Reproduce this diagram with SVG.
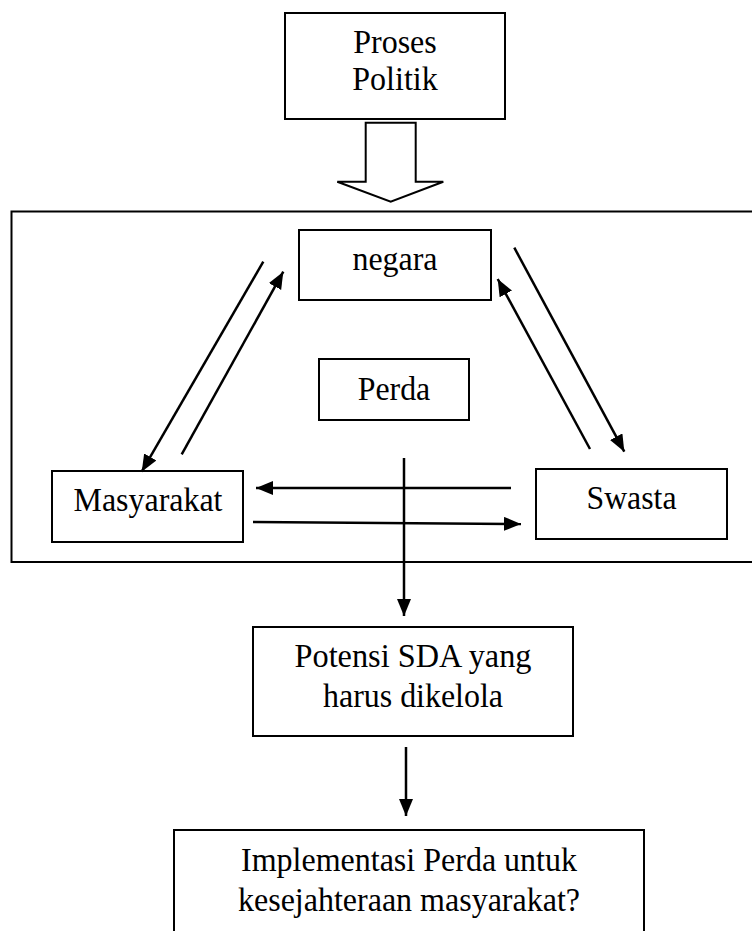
<svg xmlns="http://www.w3.org/2000/svg" width="752" height="931" viewBox="0 0 752 931">
<style>
.box{fill:#fff;stroke:#000;stroke-width:2}
.lbl{font-family:"Liberation Serif","Times New Roman",serif;font-size:34px;fill:#000;text-anchor:middle}
.con{stroke:#000;stroke-width:2.5;fill:none}
.arr{marker-end:url(#ah)}
</style>
<defs>
<marker id="ah" markerUnits="userSpaceOnUse" markerWidth="18" markerHeight="15" refX="17" refY="7" orient="auto">
<path d="M0,0 L17,7 L0,14 z" fill="#000"/>
</marker>
</defs>
<rect width="752" height="931" fill="#fff"/>
<g id="container"><rect class="box" x="11.5" y="211.5" width="760" height="350.5"/></g>
<g id="proses-politik">
<rect class="box" x="285" y="13" width="220" height="106"/>
<text class="lbl" x="395" y="53" textLength="83.6" lengthAdjust="spacingAndGlyphs">Proses</text>
<text class="lbl" x="395" y="90" textLength="85.4" lengthAdjust="spacingAndGlyphs">Politik</text>
</g>
<g id="hollow-arrow">
<polygon points="365.7,122.7 415.7,122.7 415.7,181.7 443.3,181.7 390.7,201.7 337.3,181.7 365.7,181.7" fill="#fff" stroke="#000" stroke-width="2" stroke-linejoin="miter"/>
</g>
<g id="negara">
<rect class="box" x="299" y="230" width="192" height="70"/>
<text class="lbl" x="395" y="270" textLength="85" lengthAdjust="spacingAndGlyphs">negara</text>
</g>
<g id="perda">
<rect class="box" x="319" y="359" width="150" height="61"/>
<text class="lbl" x="394" y="400" textLength="72.5" lengthAdjust="spacingAndGlyphs">Perda</text>
</g>
<g id="masyarakat">
<rect class="box" x="52" y="471" width="191" height="71"/>
<text class="lbl" x="148" y="511" textLength="149" lengthAdjust="spacingAndGlyphs">Masyarakat</text>
</g>
<g id="swasta">
<rect class="box" x="536" y="469" width="191" height="70"/>
<text class="lbl" x="631.5" y="509" textLength="90" lengthAdjust="spacingAndGlyphs">Swasta</text>
</g>
<g id="potensi">
<rect class="box" x="253" y="627" width="320" height="109"/>
<text class="lbl" x="413" y="667" textLength="237" lengthAdjust="spacingAndGlyphs">Potensi SDA yang</text>
<text class="lbl" x="413" y="707" textLength="180" lengthAdjust="spacingAndGlyphs">harus dikelola</text>
</g>
<g id="implementasi">
<rect class="box" x="174" y="830" width="470" height="120"/>
<text class="lbl" x="409" y="871" textLength="336" lengthAdjust="spacingAndGlyphs">Implementasi Perda untuk</text>
<text class="lbl" x="409" y="911" textLength="342" lengthAdjust="spacingAndGlyphs">kesejahteraan masyarakat?</text>
</g>
<g id="connectors">
<line class="con arr" x1="263.3" y1="261.7" x2="141.7" y2="471.7"/>
<line class="con arr" x1="181.7" y1="454.3" x2="283.3" y2="271.7"/>
<line class="con arr" x1="514.3" y1="247.7" x2="624.3" y2="451.7"/>
<line class="con arr" x1="590" y1="449" x2="497.7" y2="279"/>
<line class="con arr" x1="511" y1="488" x2="256" y2="488"/>
<line class="con arr" x1="253" y1="522" x2="521" y2="524"/>
<line class="con arr" x1="404" y1="458" x2="404" y2="616"/>
<line class="con arr" x1="406" y1="747" x2="406" y2="816"/>
</g>
</svg>
